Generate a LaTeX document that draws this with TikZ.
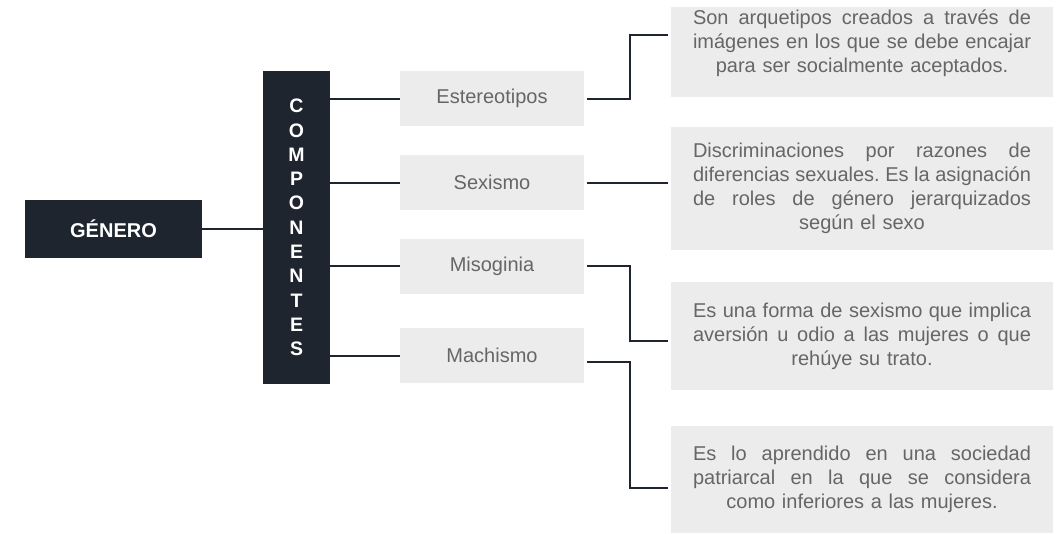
\documentclass[tikz,border=0pt]{standalone}
\usepackage{fontspec}
\setmainfont{Liberation Sans}
\definecolor{slate}{HTML}{1E252E}
\definecolor{boxgray}{HTML}{ECECEC}
\definecolor{textgray}{HTML}{666666}
\newcommand{\jline}[1]{\makebox[338pt][s]{\frenchspacing\spaceskip=5.56pt plus 30pt\relax #1}}
\tikzset{
  darkbox/.style={fill=slate, text=white, inner sep=0pt, font=\bfseries\fontsize{20}{24}\selectfont},
  termbox/.style={fill=boxgray, text=textgray, minimum width=184, minimum height=55, inner sep=0pt, font=\fontsize{20}{24}\selectfont},
  descbox/.style={fill=boxgray, minimum width=382, inner sep=0pt},
  desctext/.style={text=textgray, text width=338pt, align=center, inner sep=0pt, font=\fontsize{20}{24}\selectfont},
  link/.style={draw=slate, line width=2pt}
}
\begin{document}
\begin{tikzpicture}[x=1pt,y=-1pt]
\useasboundingbox (0,0) rectangle (1059,533);
\node[darkbox, minimum width=177, minimum height=58] (Genero) at (113.5,229) {GÉNERO};
\node[darkbox, minimum width=67, minimum height=313, align=center, font=\bfseries\fontsize{19.5}{24.3}\selectfont] (Componentes) at (296.5,227.5) {C\\O\\M\\P\\O\\N\\E\\N\\T\\E\\S};

\node[termbox] (Estereotipos) at (492,98.5) {Estereotipos};
\node[termbox] (Sexismo) at (492,182.5) {Sexismo};
\node[termbox] (Misoginia) at (492,266) {Misoginia};
\node[termbox] (Machismo) at (492,355.5) {Machismo};

\node[descbox, minimum height=90] (Arquetipos) at (862,52) {};
\node[descbox, minimum height=123] (Discriminacion) at (862,188.5) {};
\node[descbox, minimum height=108] (Aversion) at (862,336) {};
\node[descbox, minimum height=107] (Aprendido) at (862,479.5) {};

\node[desctext] (ArquetiposText) at ([yshift=9pt]Arquetipos.center) {\jline{Son arquetipos creados a través de}\\\jline{imágenes en los que se debe encajar}\\para ser socialmente aceptados.};
\node[desctext] (DiscriminacionText) at (Discriminacion.center) {\jline{Discriminaciones por razones de}\\\jline{diferencias sexuales. Es la asignación}\\\jline{de roles de género jerarquizados}\\según el sexo};
\node[desctext] (AversionText) at (Aversion.center) {\jline{Es una forma de sexismo que implica}\\\jline{aversión u odio a las mujeres o que}\\rehúye su trato.};
\node[desctext] (AprendidoText) at (Aprendido.center) {\jline{Es lo aprendido en una sociedad}\\\jline{patriarcal en la que se considera}\\como inferiores a las mujeres.};

\draw[link] (Genero.east) -- (Genero.east -| Componentes.west);
\draw[link] (Estereotipos.west -| Componentes.east) -- (Estereotipos.west);
\draw[link] (Sexismo.west -| Componentes.east) -- (Sexismo.west);
\draw[link] (Misoginia.west -| Componentes.east) -- (Misoginia.west);
\draw[link] (Machismo.west -| Componentes.east) -- (Machismo.west);

\draw[link, shorten <=3pt, shorten >=3pt] (Estereotipos.east) -- ++(46,0) |- ([yshift=17pt]Arquetipos.west);
\draw[link, shorten <=3pt, shorten >=3pt] (Sexismo.east) -- (Sexismo.east -| Discriminacion.west);
\draw[link, shorten <=3pt, shorten >=3pt] (Misoginia.east) -- ++(46,0) |- ([yshift=-5pt]Aversion.west);
\draw[link, shorten <=3pt, shorten >=3pt] ([yshift=-6pt]Machismo.east) -- ++(46,0) |- ([yshift=-8pt]Aprendido.west);
\end{tikzpicture}
\end{document}
